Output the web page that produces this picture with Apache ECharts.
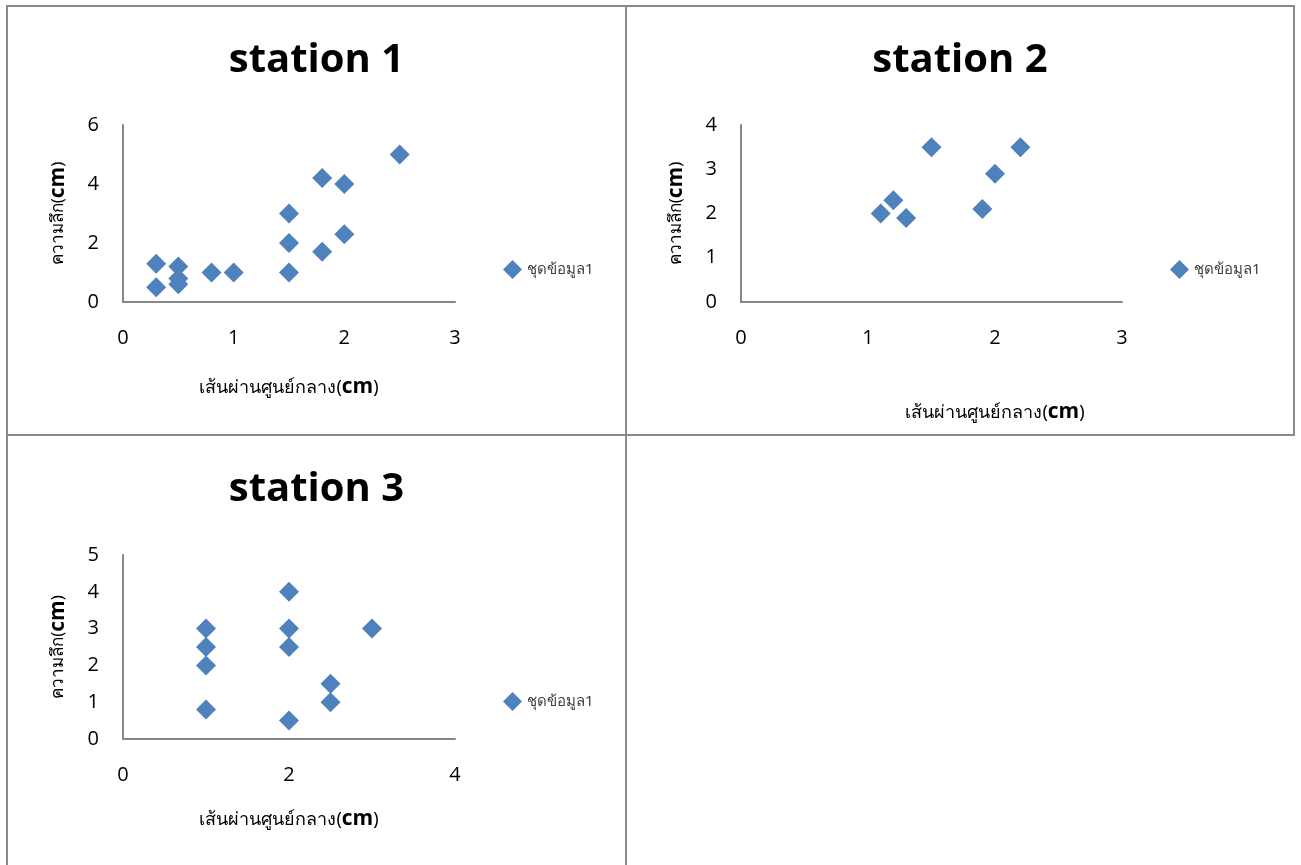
<!DOCTYPE html>
<html>
<head>
<meta charset="utf-8">
<script src="https://cdn.jsdelivr.net/npm/echarts@6/dist/echarts.min.js"></script>
<style>
  body { margin: 0; background: #fff; width: 1301px; height: 865px; overflow: hidden; position: relative; }
  .box { position: absolute; box-sizing: border-box; border: 2px solid #8a8a8a; background: #fff; }
</style>
</head>
<body>
<div id="c1" class="box" style="left:6px;top:5px;width:621px;height:431px;"></div>
<div id="c2" class="box" style="left:625px;top:5px;width:670px;height:431px;"></div>
<div id="c3" class="box" style="left:6px;top:434px;width:621px;height:440px;"></div>
<script>
// station 1 : diameter (x), depth (y)
var st1X = [0.3, 0.3, 0.5, 0.5, 0.5, 0.8, 1, 1.5, 1.5, 1.5, 1.8, 1.8, 2, 2, 2.5];
var st1Y = [1.3, 0.5, 1.2, 0.8, 0.6, 1, 1, 1, 2, 3, 1.7, 4.2, 4, 2.3, 5];
// station 2
var st2X = [1.1, 1.2, 1.3, 1.5, 1.9, 2, 2.2];
var st2Y = [2, 2.3, 1.9, 3.5, 2.1, 2.9, 3.5];
// station 3
var st3X = [1, 1, 1, 1, 2, 2, 2, 2, 2.5, 2.5, 3];
var st3Y = [3, 2.5, 2, 0.8, 4, 3, 2.5, 0.5, 1.5, 1, 3];

var titles = ['station 1', 'station 2', 'station 3'];
var seriesName = 'ชุดข้อมูล1';
var xName = 'เส้นผ่านศูนย์กลาง';
var yName = 'ความลึก';

var thaiFont = '"Noto Sans", "DejaVu Sans", sans-serif';
var latinFont = '"Open Sans", "Liberation Sans", sans-serif';
var blue = '#4f81bd';
var axisGray = '#868686';

function pairs(xs, ys) {
    var out = [];
    for (var i = 0; i < xs.length; i++) out.push([xs[i], ys[i]]);
    return out;
}

function makeOption(cfg) {
    return {
        animation: false,
        title: {
            text: cfg.title,
            left: 'center',
            top: 29,
            textStyle: {fontFamily: latinFont, fontWeight: 'bold', fontSize: 40, color: '#000'}
        },
        legend: {
            data: [seriesName],
            left: cfg.legendLeft,
            top: cfg.legendTop,
            orient: 'vertical',
            itemWidth: 19,
            itemHeight: 19,
            icon: 'diamond',
            textStyle: {fontFamily: thaiFont, fontSize: 15, color: '#404040'}
        },
        grid: cfg.grid,
        xAxis: {
            type: 'value',
            min: 0,
            max: cfg.xMax,
            interval: cfg.xInterval,
            name: '{t|' + xName + '(}{b|cm}{t|)}',
            nameLocation: 'middle',
            nameGap: cfg.xNameGap,
            nameTextStyle: {
                padding: cfg.xNamePad,
                rich: {
                    t: {fontFamily: thaiFont, fontSize: 18, color: '#000'},
                    b: {fontFamily: latinFont, fontSize: 21, color: '#000', fontWeight: 'bold'}
                }
            },
            axisLine: {lineStyle: {color: axisGray, width: 2}},
            axisTick: {show: false},
            splitLine: {show: false},
            axisLabel: {margin: 26, fontFamily: latinFont, fontSize: 20, color: '#000'}
        },
        yAxis: {
            type: 'value',
            min: 0,
            max: cfg.yMax,
            interval: cfg.yInterval,
            name: '{t|' + yName + '(}{b|cm}{t|)}',
            nameLocation: 'middle',
            nameGap: 54,
            nameRotate: 90,
            nameTextStyle: {
                rich: {
                    t: {fontFamily: thaiFont, fontSize: 17, color: '#000'},
                    b: {fontFamily: latinFont, fontSize: 21, color: '#000', fontWeight: 'bold'}
                }
            },
            axisLine: {show: true, lineStyle: {color: axisGray, width: 2}},
            axisTick: {show: false},
            splitLine: {show: false},
            axisLabel: {margin: 24, fontFamily: latinFont, fontSize: 20, color: '#000'}
        },
        series: [{
            name: seriesName,
            type: 'scatter',
            symbol: 'diamond',
            symbolSize: 20,
            itemStyle: {color: blue, opacity: 1},
            data: cfg.data
        }]
    };
}

var chart1 = echarts.init(document.getElementById('c1'));
chart1.setOption(makeOption({
    title: titles[0],
    grid: {left: 115, top: 118, width: 332, height: 177},
    xMax: 3, xInterval: 1, yMax: 6, yInterval: 2,
    xNameGap: 75, xNamePad: 0,
    legendLeft: 490, legendTop: 248,
    data: pairs(st1X, st1Y)
}));

var chart2 = echarts.init(document.getElementById('c2'));
chart2.setOption(makeOption({
    title: titles[1],
    grid: {left: 114, top: 118, width: 381, height: 177},
    xMax: 3, xInterval: 1, yMax: 4, yInterval: 1,
    xNameGap: 100, xNamePad: [0, 0, 0, 127],
    legendLeft: 538, legendTop: 248,
    data: pairs(st2X, st2Y)
}));

var chart3 = echarts.init(document.getElementById('c3'));
chart3.setOption(makeOption({
    title: titles[2],
    grid: {left: 115, top: 119, width: 332, height: 184},
    xMax: 4, xInterval: 2, yMax: 5, yInterval: 1,
    xNameGap: 70, xNamePad: 0,
    legendLeft: 490, legendTop: 251,
    data: pairs(st3X, st3Y)
}));
</script>
</body>
</html>
